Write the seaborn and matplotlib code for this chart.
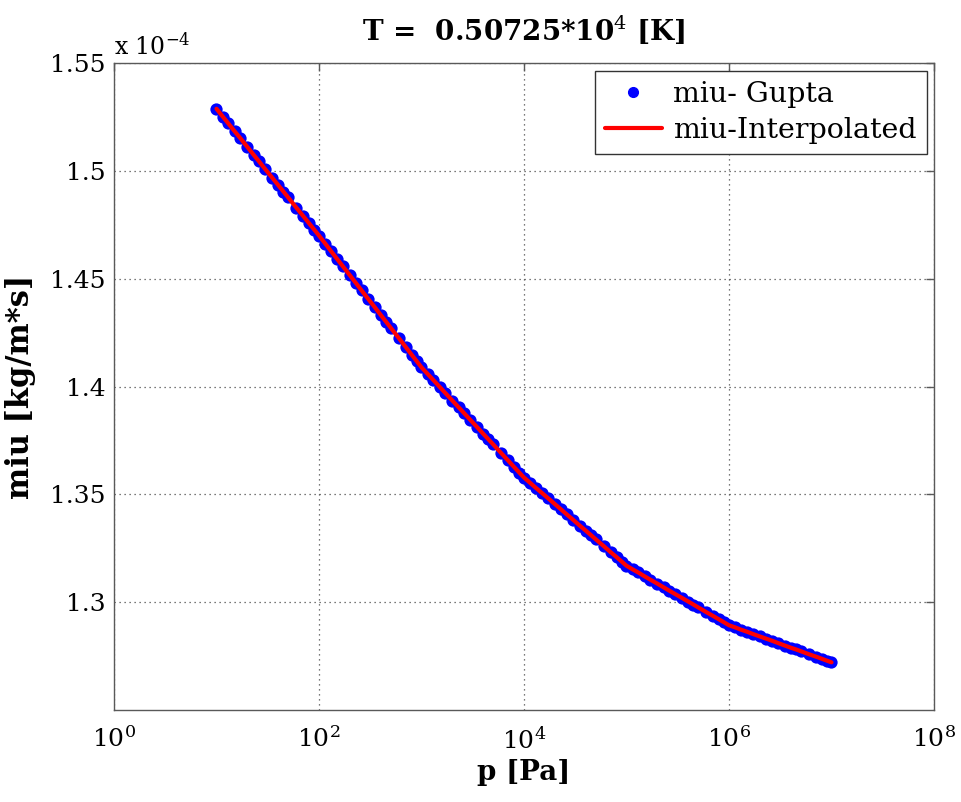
import numpy as np
import pandas as pd
import matplotlib
matplotlib.use("Agg")
import matplotlib.pyplot as plt
import seaborn as sns
from matplotlib.lines import Line2D

# ---------------- data (miu in units of 1e-4 kg/m*s) ----------------
p_gupta = [
    10, 11.5, 13, 15, 17, 20, 23, 26, 30, 35, 40, 45, 50, 60, 70, 80, 90,
    100, 115, 130, 150, 170, 200, 230, 260, 300, 350, 400, 450, 500, 600, 700, 800, 900,
    1e3, 1.15e3, 1.3e3, 1.5e3, 1.7e3, 2e3, 2.3e3, 2.6e3, 3e3, 3.5e3, 4e3, 4.5e3, 5e3, 6e3, 7e3, 8e3, 9e3,
    1e4, 1.15e4, 1.3e4, 1.5e4, 1.7e4, 2e4, 2.3e4, 2.6e4, 3e4, 3.5e4, 4e4, 4.5e4, 5e4, 6e4, 7e4, 8e4, 9e4,
    1e5, 1.15e5, 1.3e5, 1.5e5, 1.7e5, 2e5, 2.3e5, 2.6e5, 3e5, 3.5e5, 4e5, 4.5e5, 5e5, 6e5, 7e5, 8e5, 9e5,
    1e6, 1.15e6, 1.3e6, 1.5e6, 1.7e6, 2e6, 2.3e6, 2.6e6, 3e6, 3.5e6, 4e6, 4.5e6, 5e6, 6e6, 7e6, 8e6, 9e6,
    1e7,
]
miu_gupta_e4 = [
    1.5288, 1.5252, 1.5221, 1.5184, 1.5153, 1.5111, 1.5075, 1.5044, 1.5007, 1.4968, 1.4934, 1.4904, 1.4877, 1.4830, 1.4791, 1.4757, 1.4727,
    1.4700, 1.4663, 1.4630, 1.4592, 1.4559, 1.4516, 1.4479, 1.4446, 1.4408, 1.4368, 1.4332, 1.4301, 1.4273, 1.4225, 1.4184, 1.4148, 1.4117,
    1.4089, 1.4058, 1.4031, 1.3999, 1.3971, 1.3935, 1.3904, 1.3877, 1.3845, 1.3811, 1.3781, 1.3755, 1.3732, 1.3691, 1.3657, 1.3627, 1.3601,
    1.3578, 1.3553, 1.3531, 1.3506, 1.3484, 1.3455, 1.3430, 1.3408, 1.3383, 1.3355, 1.3332, 1.3311, 1.3292, 1.3260, 1.3232, 1.3209, 1.3188,
    1.3169, 1.3152, 1.3138, 1.3120, 1.3105, 1.3086, 1.3069, 1.3054, 1.3037, 1.3019, 1.3003, 1.2989, 1.2976, 1.2954, 1.2936, 1.2920, 1.2906,
    1.2893, 1.2883, 1.2873, 1.2863, 1.2853, 1.2841, 1.2831, 1.2822, 1.2811, 1.2799, 1.2789, 1.2781, 1.2773, 1.2759, 1.2748, 1.2738, 1.2729,
    1.2721,
]
# interpolated curve (drawn through the same readings)
p_interp = list(p_gupta)
miu_interp_e4 = list(miu_gupta_e4)

x_ticks = [1e0, 1e2, 1e4, 1e6, 1e8]
x_tick_labels = ["$10^{0}$", "$10^{2}$", "$10^{4}$", "$10^{6}$", "$10^{8}$"]
y_ticks = [1.3, 1.35, 1.4, 1.45, 1.5, 1.55]
y_tick_labels = ["1.3", "1.35", "1.4", "1.45", "1.5", "1.55"]

title_text = "T =  0.50725*10$^{4}$ [K]"
x_label = "p [Pa]"
y_label = "miu [kg/m*s]"
series_names = ["miu- Gupta", "miu-Interpolated"]

# ---------------- style ----------------
sns.set_style("white")
plt.rcParams["font.family"] = ["DejaVu Serif"]
plt.rcParams["mathtext.fontset"] = "dejavuserif"
plt.rcParams["text.color"] = "black"
plt.rcParams["axes.labelcolor"] = "black"

fig = plt.figure(figsize=(9.61, 8.02), dpi=100)
ax = fig.add_axes([0.1186, 0.1147, 0.8533, 0.8067])

df_g = pd.DataFrame({"p": p_gupta, "miu": miu_gupta_e4})
df_i = pd.DataFrame({"p": p_interp, "miu": miu_interp_e4})

sns.scatterplot(data=df_g, x="p", y="miu", ax=ax, color="#0000ff", s=78,
                linewidth=0, zorder=3, legend=False)
sns.lineplot(data=df_i, x="p", y="miu", ax=ax, color="#ff0000", linewidth=3.0,
             zorder=4, sort=False, estimator=None, legend=False)

ax.set_xscale("log")
ax.set_xlim(1, 1e8)
ax.set_ylim(1.25, 1.55)
ax.set_xticks(x_ticks)
ax.set_xticklabels(x_tick_labels)
ax.minorticks_off()
ax.set_yticks(y_ticks)
ax.set_yticklabels(y_tick_labels)

ax.grid(True, linestyle=(0, (1, 3)), color="0.3", linewidth=0.9)
for s in ax.spines.values():
    s.set_visible(True)
    s.set_color("0.35")
    s.set_linewidth(1.0)
ax.tick_params(axis="both", direction="in", top=True, right=True, length=6,
               width=1.0, color="0.35", labelsize=18, labelcolor="black")
ax.tick_params(axis="x", pad=12)
ax.tick_params(axis="y", pad=6)

ax.set_xlabel(x_label, fontsize=20, fontweight="bold", labelpad=4)
ax.set_ylabel(y_label, fontsize=22, fontweight="bold", labelpad=10)
ax.set_title(title_text, fontsize=20, fontweight="bold", pad=16)

ax.text(0.0, 1.005, r"x 10$^{-4}$", transform=ax.transAxes, fontsize=17,
        ha="left", va="bottom")

handles = [
    Line2D([], [], linestyle="none", marker="o", markersize=7,
           markerfacecolor="#0000ff", markeredgecolor="#0000ff"),
    Line2D([], [], color="#ff0000", linewidth=3.0),
]
leg = ax.legend(handles, series_names, loc="upper right",
                bbox_to_anchor=(0.991, 0.987), fontsize=20.5, frameon=True,
                fancybox=False, framealpha=1, edgecolor="0.2",
                handlelength=2.0, handletextpad=0.4, borderpad=0.35,
                labelspacing=0.3, borderaxespad=0.0)
leg.get_frame().set_linewidth(1.0)

fig.savefig("out.png", dpi=100)
